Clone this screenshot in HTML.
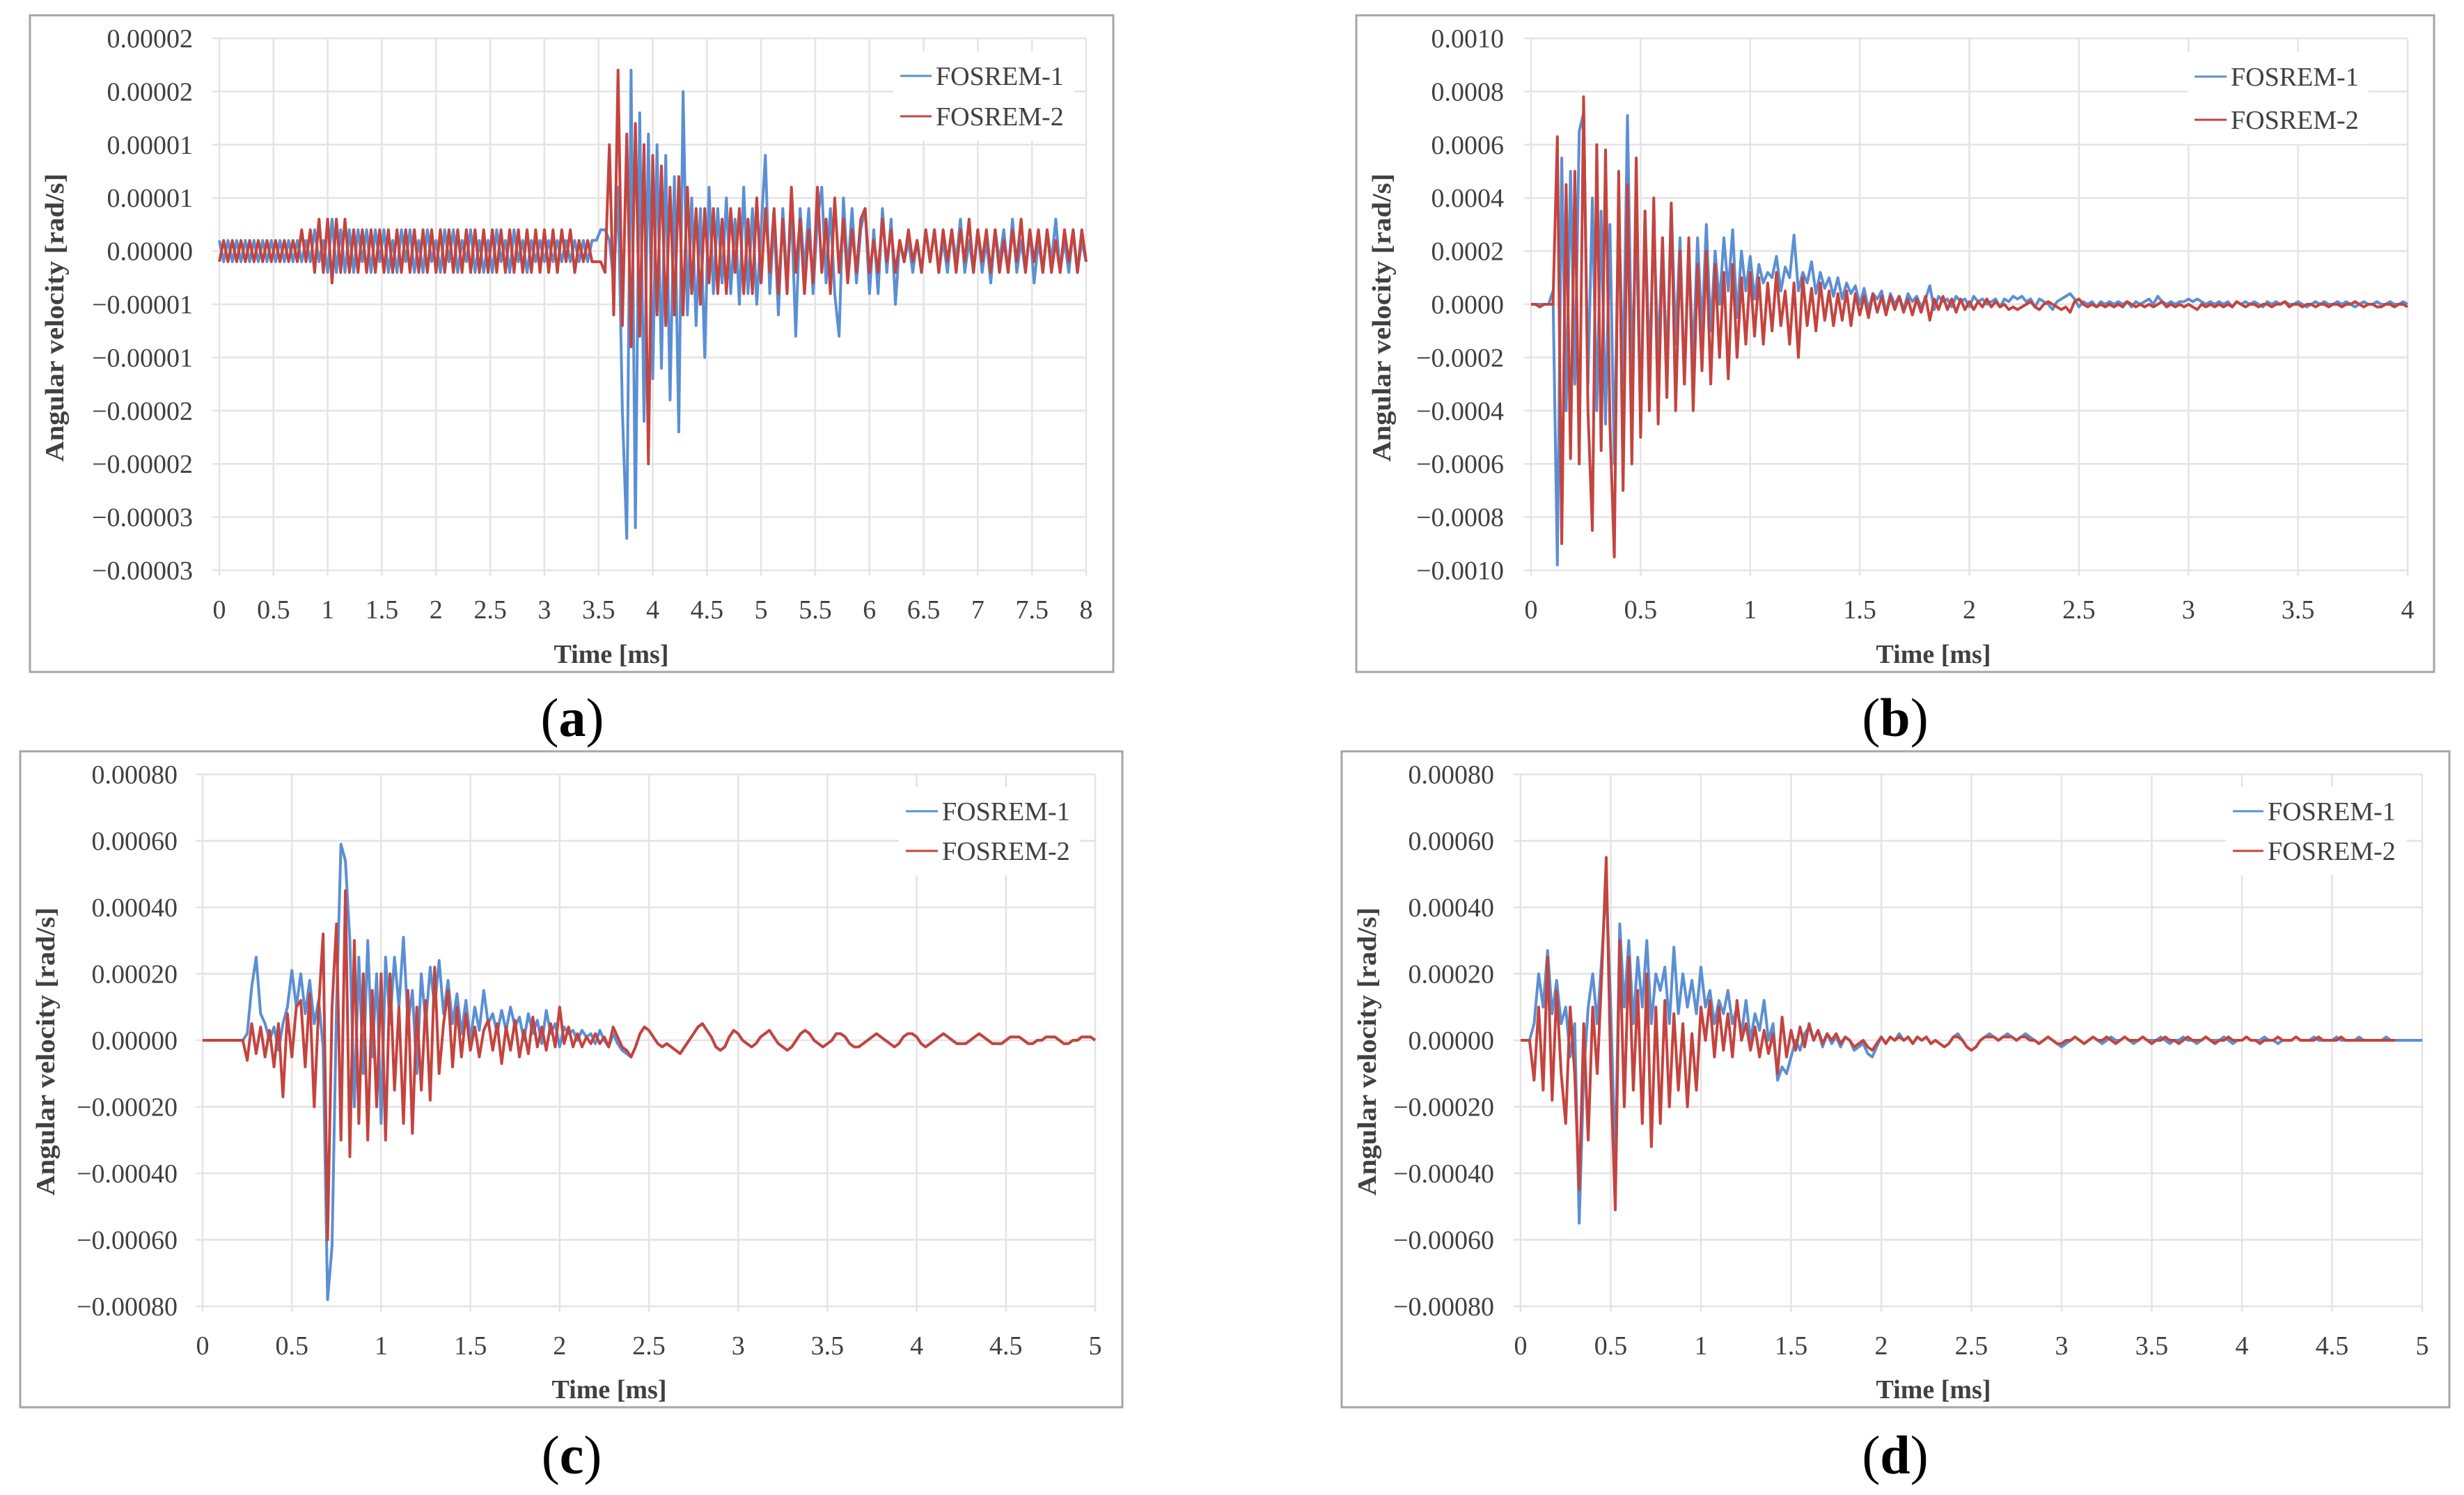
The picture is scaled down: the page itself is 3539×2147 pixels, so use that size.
<!DOCTYPE html>
<html><head><meta charset="utf-8"><style>
html,body{margin:0;padding:0;background:#fff;}
svg{display:block;font-family:"Liberation Serif",serif;}
</style></head><body>
<svg id="fig" width="3539" height="2147" viewBox="0 0 3539 2147" xmlns="http://www.w3.org/2000/svg"></svg>
<script>
// ---------- DATA ----------
// Panel (a): time step 0.04 ms, values in 1e-6 rad/s
const aXTicks = ["0","0.5","1","1.5","2","2.5","3","3.5","4","4.5","5","5.5","6","6.5","7","7.5","8"];
const aYTicks = ["0.00002","0.00002","0.00001","0.00001","0.00000","\u22120.00001","\u22120.00001","\u22120.00002","\u22120.00002","\u22120.00003","\u22120.00003"];
const aBlue = [1,-1,1,-1,1,-1,1,-1,1,-1,1,-1,1,-1,1,-1,1,-1,1,-1,1,-1,2,-1,1,
-2,3,-2,2,-2,2,-2,2,-1,2,-2,2,-1,2,-2,1,-2,2,-1,2,-2,1,-2,2,-1,
1,-2,2,-1,2,-2,1,-1,2,-2,1,-2,1,-2,2,-1,1,-2,2,-1,1,-2,1,-1,1,
-1,1,-1,1,-1,1,-1,1,-1,1,-1,1,1,
2,2,1,-3,6,-15,-27,17,-26,13,-16,11,-12,10,-11,9,-14,7,-17,15,-6,5,-7,4,-10,6,-4,4,-3,5,-4,3,-5,6,-4,4,-5,2,9,-4,3,-6,4,-3,4,-8,4,-2,4,-4,3,6,-3,4,-4,-8,5,-2,4,-3,2,4,-4,2,-4,4,-2,3,-5,1,-1,1,-2,
1,-2,2,-1,2,-2,1,-2,2,-1,3,-2,1,-2,2,-2,1,-3,2,-1,2,-2,3,-2,1,-2,2,-3,1,-2,2,-1,3,-2,1,-2,2,-2,1,-1];
const aRed = [-1,1,-1,1,-1,1,-1,1,-1,1,-1,1,-1,1,-1,1,-1,1,-1,2,-1,2,-2,3,-2,
3,-3,3,-2,3,-2,2,-2,2,-2,2,-2,2,-2,2,-2,2,-2,2,-2,2,-2,2,-2,2,
-2,2,-2,2,-2,2,-2,2,-2,2,-2,2,-2,2,-2,2,-2,2,-2,2,-2,2,-2,2,-2,
2,-2,2,-2,2,-1,2,-2,1,-1,1,-1,-1,
-1,-2,10,-6,17,-7,11,-9,12,-8,10,-20,9,-6,8,-7,6,-6,7,-6,6,-4,4,-5,4,-3,4,-4,3,-4,4,-2,4,-4,3,-4,5,-3,4,-2,4,-4,3,-4,6,-2,3,-4,2,-3,6,-2,3,-4,5,-2,3,-3,2,-2,3,4,-2,1,-2,3,-1,2,-2,1,-1,2,-1,
1,-2,2,-1,2,-2,2,-1,2,-2,2,-1,3,-2,2,-1,2,-2,2,-2,1,-2,2,-1,3,-2,2,-1,2,-2,2,-2,1,-2,2,-1,2,-2,2,-1];

// Panel (b): time step 0.02 ms, values in 1e-5 rad/s
const bXTicks = ["0","0.5","1","1.5","2","2.5","3","3.5","4"];
const bYTicks = ["0.0010","0.0008","0.0006","0.0004","0.0002","0.0000","\u22120.0002","\u22120.0004","\u22120.0006","\u22120.0008","\u22120.0010"];
const bBlue = [0,0,0,0,0,5,-98,55,-40,50,-30,65,72,-30,40,-40,35,-45,30,-60,40,-30,71,-25,30,-45,35,-25,30,-20,25,-25,38,-15,25,-30,20,-20,25,-10,30,-10,20,0,25,5,28,-5,20,5,18,2,15,8,12,10,18,5,14,10,26,5,12,8,16,4,12,6,10,3,10,2,8,4,7,0,6,-2,4,2,5,-3,4,0,3,-2,4,1,3,-1,2,7,-2,3,1,2,-1,3,1,2,-1,3,1,2,0,1,2,-1,2,1,3,2,3,1,2,-1,2,1,0,-2,1,2,3,4,2,-1,1,0,1,-1,1,0,1,0,1,0,1,-1,1,0,1,2,0,3,1,0,1,0,1,1,2,1,2,1,0,1,
0,1,0,1,-1,1,0,1,0,1,0,-1,1,0,1,0,1,0,0,1,0,-1,0,1,0,1,0,0,1,0,1,0,-1,0,1,0,0,1,0,0,1,0,0,1,0];
const bRed = [0,0,-1,0,0,0,63,-90,45,-58,50,-60,78,-40,-85,60,-55,58,-45,-95,50,-70,45,-60,55,-50,35,-40,40,-45,25,-35,38,-40,20,-30,25,-40,15,-25,20,-30,15,-20,12,-28,15,-20,10,-15,12,-12,10,-15,8,-10,12,-8,5,-15,8,-20,10,-8,6,-10,8,-6,5,-8,4,-6,5,-8,4,-4,3,-5,4,-3,3,-4,3,-2,3,-3,2,-4,2,-3,3,-6,2,-2,3,-2,2,-3,2,-2,1,-2,1,-1,2,-1,1,-1,0,-2,-1,-2,-1,0,1,-1,-2,0,1,0,-1,-2,-1,-3,1,2,0,-1,0,-1,0,-1,0,-1,0,-1,1,0,-1,0,-1,0,-1,0,1,-1,0,-1,0,-1,0,-1,-2,0,-1,0,
-1,0,-1,0,-1,1,0,-1,0,0,-1,0,0,-1,0,0,1,-1,0,0,-1,0,0,-1,0,0,-1,0,0,-1,0,0,1,0,-1,0,0,-1,-1,0,0,-1,0,0,-1];

// Panel (c): time step 0.025 ms, values in 1e-5 rad/s
const cXTicks = ["0","0.5","1","1.5","2","2.5","3","3.5","4","4.5","5"];
const cYTicks = ["0.00080","0.00060","0.00040","0.00020","0.00000","\u22120.00020","\u22120.00040","\u22120.00060","\u22120.00080"];
const cBlue = [0,0,0,0,0,0,0,0,0,0,2,16,25,8,5,0,4,-3,5,10,21,10,20,8,18,5,12,-2,-78,-62,10,59,54,30,-20,25,-10,30,-5,20,-25,25,5,25,10,31,5,15,-10,20,5,22,10,24,8,18,5,14,2,12,0,10,3,15,5,8,2,9,3,10,4,7,0,8,2,6,-1,9,2,5,-2,4,2,3,0,3,1,2,-1,3,0,-2,2,-1,-3,-4,-5,-2,2,4,3,
1,-1,-2,-1,-2,-3,-4,-2,0,2,4,5,3,1,-2,-3,-2,1,3,2,0,-1,-2,-1,1,2,3,1,-1,-2,-3,-2,0,2,3,2,0,-1,-2,-1,0,2,2,1,-1,-2,-2,-1,0,1,2,1,0,-1,-2,-1,1,2,2,1,-1,-2,-1,0,1,2,1,0,-1,-1,-1,0,1,2,1,0,-1,-1,-1,0,1,1,1,0,-1,-1,0,0,1,1,1,0,-1,-1,0,0,1,1,1,0];
const cRed = [0,0,0,0,0,0,0,0,0,0,-6,5,-4,4,-5,3,-8,5,-17,8,-5,10,12,-8,14,-20,10,32,-60,10,35,-30,45,-35,30,-25,20,-30,15,-20,20,-30,20,-15,10,-25,15,-28,10,-15,12,-18,22,-10,5,15,-8,10,-5,8,-3,4,-5,3,6,-3,5,-7,4,-3,6,-5,3,-4,7,-2,4,-3,5,-2,10,-1,4,-2,2,-2,1,-1,2,-1,1,-2,4,1,-2,-3,-5,-2,2,4,3,
1,-1,-2,-1,-2,-3,-4,-2,0,2,4,5,3,1,-2,-3,-2,1,3,2,0,-1,-2,-1,1,2,3,1,-1,-2,-3,-2,0,2,3,2,0,-1,-2,-1,0,2,2,1,-1,-2,-2,-1,0,1,2,1,0,-1,-2,-1,1,2,2,1,-1,-2,-1,0,1,2,1,0,-1,-1,-1,0,1,2,1,0,-1,-1,-1,0,1,1,1,0,-1,-1,0,0,1,1,1,0,-1,-1,0,0,1,1,1,0];

// Panel (d): time step 0.025 ms, values in 1e-5 rad/s
const dXTicks = ["0","0.5","1","1.5","2","2.5","3","3.5","4","4.5","5"];
const dYTicks = ["0.00080","0.00060","0.00040","0.00020","0.00000","\u22120.00020","\u22120.00040","\u22120.00060","\u22120.00080"];
const dBlue = [0,0,0,5,20,10,27,8,18,5,10,-5,5,-55,-10,10,20,5,25,47,10,-38,35,10,30,5,25,10,30,5,20,15,22,5,28,8,20,10,18,8,22,10,15,5,12,8,15,5,10,2,12,0,8,3,12,0,5,-12,-8,-10,-5,0,-3,2,4,0,3,-2,2,-1,1,-2,1,0,-3,-2,-1,-4,-5,-2,1,-1,1,0,2,0,1,-1,1,0,1,-1,0,-1,-2,-1,1,2,0,-2,-3,
-2,0,1,2,1,0,1,2,1,0,1,2,1,0,-1,0,1,0,-1,-2,-1,0,1,0,-1,0,1,0,-1,0,1,0,0,1,0,-1,0,1,0,0,0,1,0,-1,0,0,1,0,0,-1,0,1,0,0,0,1,0,-1,0,0,1,0,0,0,1,0,0,-1,0,0,0,1,0,0,0,1,0,0,0,0,1,0,0,0,0,1,0,0,0,0,0,1,0,0,0,0,0,0,0,0];
const dRed = [0,0,0,-12,10,-15,25,-18,15,-10,-25,10,-10,-45,5,-30,10,-10,20,55,-10,-51,30,-20,25,-15,15,-25,20,-32,10,-25,12,-20,8,-15,5,-20,2,-15,10,0,12,-5,10,-3,8,-5,12,0,5,-3,4,-5,3,-4,2,-10,7,-5,3,-3,4,-2,5,0,3,-1,2,0,2,-1,1,0,-2,-1,0,-2,-3,-1,1,
-1,1,0,1,0,1,-1,1,0,1,-1,0,-1,-2,-1,1,1,0,-2,-3,-2,0,1,1,1,0,1,1,1,0,1,1,0,0,-1,0,1,0,-1,-1,0,0,1,0,-1,0,1,0,0,1,0,-1,0,1,0,0,0,1,0,-1,0,0,1,0,0,-1,0,1,0,0,0,1,0,-1,0,0,1,0,0,0,1,0,0,-1,0,0,0,1,0,0,0,1,0,0,0,0,1,0,0,0,0,1,0,0,0,0,0,0,0,0,0,0,0,0];

// ---------- DRAWING ----------
const NS = "http://www.w3.org/2000/svg";
const svg = document.getElementById('fig');
const BLUE = "#5b8fd3", RED = "#c4443f";
function mk(tag, attrs, parent){
  const e = document.createElementNS(NS, tag);
  for (const k in attrs) e.setAttribute(k, attrs[k]);
  (parent||svg).appendChild(e);
  return e;
}
function panel(p){
  const g = mk('g', {});
  
  
  const border = mk('rect', {x:p.bx0, y:p.by0, width:p.bx1-p.bx0, height:p.by1-p.by0, fill:'#fff', stroke:'#a6a6a6', 'stroke-width':3}, g);
  
  
  const xS = t => p.x0 + (t - 0) / p.xmax * (p.x1 - p.x0);
  const yS = v => p.y1 - (v - p.ymin) / (p.ymax - p.ymin) * (p.y1 - p.y0);
  const nY = p.yTicks.length;
  for (let i = 0; i < nY; i++){
    const v = p.ymax - i * (p.ymax - p.ymin) / (nY - 1);
    const y = yS(v);
    const gl = mk('line', {x1:p.x0-10, x2:p.x1, y1:y, y2:y, stroke:'#e4e4e4', 'stroke-width':2.5}, g);
    
    
    const tl = mk('text', {x:p.yLab, y:y+13, 'text-anchor':'end', 'font-size':38, fill:'#404040'}, g);
    tl.textContent = p.yTicks[i];
    
    
  }
  const nX = p.xTicks.length;
  for (let i = 0; i < nX; i++){
    const t = i * p.xmax / (nX - 1);
    const x = xS(t);
    const gl = mk('line', {x1:x, x2:x, y1:p.y0, y2:p.y1+8, stroke:'#e4e4e4', 'stroke-width':2.5}, g);
    
    
    const tl = mk('text', {x:x, y:p.xTickY+13, 'text-anchor':'middle', 'font-size':38, fill:'#404040'}, g);
    tl.textContent = p.xTicks[i];
    
    
  }
  const series = [[p.blue, BLUE, 'fosrem-1-line'], [p.red, RED, 'fosrem-2-line']];
  for (const [vals, col, nm] of series){
    let d = '';
    for (let i = 0; i < vals.length; i++){
      const t = Math.min(i * p.dt, p.xmax);
      d += (i ? 'L' : 'M') + xS(t).toFixed(1) + ',' + yS(vals[i]).toFixed(1);
    }
    const path = mk('path', {d:d, fill:'none', stroke:col, 'stroke-width':4, 'stroke-linejoin':'round'}, g);
    
    
  }
  const yt = mk('text', {x:0, y:0, transform:'translate(' + (p.titleX+13) + ',' + p.titleY + ') rotate(-90)', 'text-anchor':'middle', 'font-size':38, 'font-weight':'bold', fill:'#404040', textLength:414, lengthAdjust:'spacingAndGlyphs'}, g);
  yt.textContent = 'Angular velocity  [rad/s]';
  
  
  const xt = mk('text', {x:p.xTitleX, y:p.xTitleY+13, 'text-anchor':'middle', 'font-size':38, 'font-weight':'bold', fill:'#404040'}, g);
  xt.textContent = 'Time [ms]';
  
  
  const lbg = mk('rect', {x:p.lx0-10, y:p.ly1-35, width:260, height:p.ly2-p.ly1+70, fill:'#fff'}, g);
  
  
  const leg = [[p.ly1, BLUE, 'FOSREM-1', 'legend-entry-fosrem-1'], [p.ly2, RED, 'FOSREM-2', 'legend-entry-fosrem-2']];
  for (const [ly, col, txt, nm] of leg){
    const lg = mk('g', {}, g);
    
    
    mk('line', {x1:p.lx0, x2:p.lx1, y1:ly, y2:ly, stroke:col, 'stroke-width':3}, lg);
    const lt = mk('text', {x:p.lx1+6, y:ly+13, 'font-size':38, fill:'#404040'}, lg);
    lt.textContent = txt;
  }
  const cap = mk('text', {x:p.capX, y:p.capY+26, 'text-anchor':'middle', 'font-size':78, fill:'#000'}, g);
  
  
  const s1 = mk('tspan', {}, cap); s1.textContent = '(';
  const s2 = mk('tspan', {'font-weight':'bold'}, cap); s2.textContent = p.id;
  const s3 = mk('tspan', {}, cap); s3.textContent = ')';
}

panel({id:'a', bx0:43, by0:22, bx1:1599, by1:965, x0:315, x1:1560, y0:55, y1:819, xmax:8, dt:0.04, ymin:-30, ymax:20,
  xTicks:aXTicks, yTicks:aYTicks, blue:aBlue, red:aRed, yLab:277, titleX:78, titleY:456, xTickY:875, xTitleX:878, xTitleY:939,
  lx0:1293, lx1:1338, ly1:109, ly2:167, capX:822, capY:1031});
panel({id:'b', bx0:1948, by0:22, bx1:3496, by1:965, x0:2199, x1:3458, y0:55, y1:819, xmax:4, dt:0.02, ymin:-100, ymax:100,
  xTicks:bXTicks, yTicks:bYTicks, blue:bBlue, red:bRed, yLab:2160, titleX:1984, titleY:456, xTickY:875, xTitleX:2777, xTitleY:939,
  lx0:3152, lx1:3198, ly1:110, ly2:172, capX:2722, capY:1031});
panel({id:'c', bx0:29, by0:1079, bx1:1612, by1:2021, x0:291, x1:1573, y0:1112, y1:1876, xmax:5, dt:0.025, ymin:-80, ymax:80,
  xTicks:cXTicks, yTicks:cYTicks, blue:cBlue, red:cRed, yLab:255, titleX:65, titleY:1510, xTickY:1932, xTitleX:875, xTitleY:1995,
  lx0:1301, lx1:1347, ly1:1165, ly2:1222, capX:821, capY:2090});
panel({id:'d', bx0:1927, by0:1079, bx1:3518, by1:2021, x0:2184, x1:3479, y0:1112, y1:1876, xmax:5, dt:0.025, ymin:-80, ymax:80,
  xTicks:dXTicks, yTicks:dYTicks, blue:dBlue, red:dRed, yLab:2146, titleX:1963, titleY:1510, xTickY:1932, xTitleX:2777, xTitleY:1995,
  lx0:3207, lx1:3251, ly1:1165, ly2:1222, capX:2722, capY:2090});
</script>
</body></html>
